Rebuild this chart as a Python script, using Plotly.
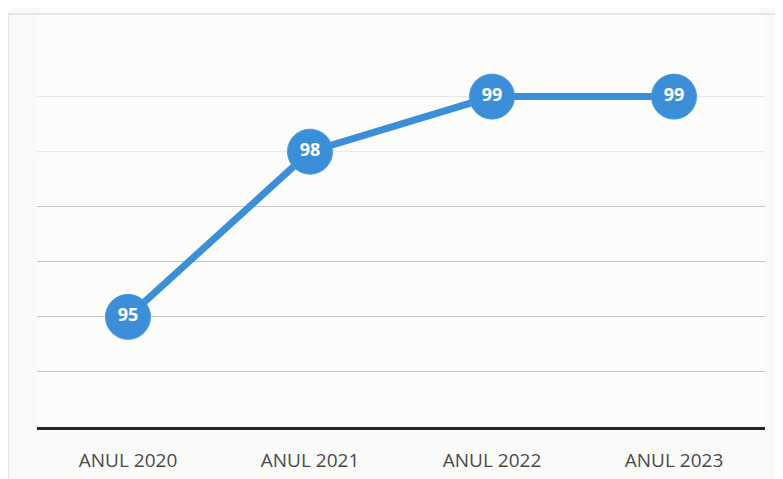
import plotly.graph_objects as go

categories = ["ANUL 2020", "ANUL 2021", "ANUL 2022", "ANUL 2023"]
values = [95, 98, 99, 99]
value_labels = [str(v) for v in values]
grid_values = [94, 95, 96, 97]
faint_grid_values = [98, 99]

blue = "#3b8fd9"

fig = go.Figure()
fig.add_trace(go.Scatter(
    x=categories, y=values, mode="lines+markers+text",
    line=dict(color=blue, width=7),
    marker=dict(size=45, color=blue, line=dict(color="#4a9ae0", width=1)),
    text=value_labels, textposition="middle center",
    textfont=dict(family="Open Sans", size=18, color="white", weight="bold"),
    cliponaxis=False, hoverinfo="skip", showlegend=False,
))

L, R, T, B = 29, 26, 6, 60
W, H = 783, 479
pw = W - L - R
ph = H - T - B

shapes = [
    dict(type="line", xref="paper", yref="paper", x0=-L / pw, x1=1 + R / pw, y0=1.0, y1=1.0,
         line=dict(color="#d0d0d0", width=1)),
    dict(type="line", xref="paper", yref="paper", x0=-L / pw + 0.001, x1=-L / pw + 0.001,
         y0=1.0, y1=-B / ph, line=dict(color="#e0e0e0", width=1)),
]
for gv in faint_grid_values:
    shapes.append(dict(type="line", xref="paper", yref="y", x0=0, x1=1, y0=gv, y1=gv,
                       layer="below", line=dict(color="#e6e6e6", width=1)))

fig.update_layout(
    width=W, height=H,
    margin=dict(l=L, r=R, t=T, b=B),
    paper_bgcolor="#fafaf9", plot_bgcolor="#fcfcfb",
    xaxis=dict(
        type="category", range=[-0.5, 3.5],
        showgrid=False, zeroline=False,
        showline=True, linecolor="#262626", linewidth=3,
        ticks="outside", ticklen=14, tickcolor="rgba(0,0,0,0)",
        tickfont=dict(family="Open Sans", size=19, color="#4a4a4a"),
    ),
    yaxis=dict(
        range=[93, 100.5], tickvals=grid_values, showticklabels=False,
        showgrid=True, gridcolor="#c4c4c4", gridwidth=1,
        zeroline=False, showline=False,
    ),
    shapes=shapes,
)

fig.write_html("out.html")
